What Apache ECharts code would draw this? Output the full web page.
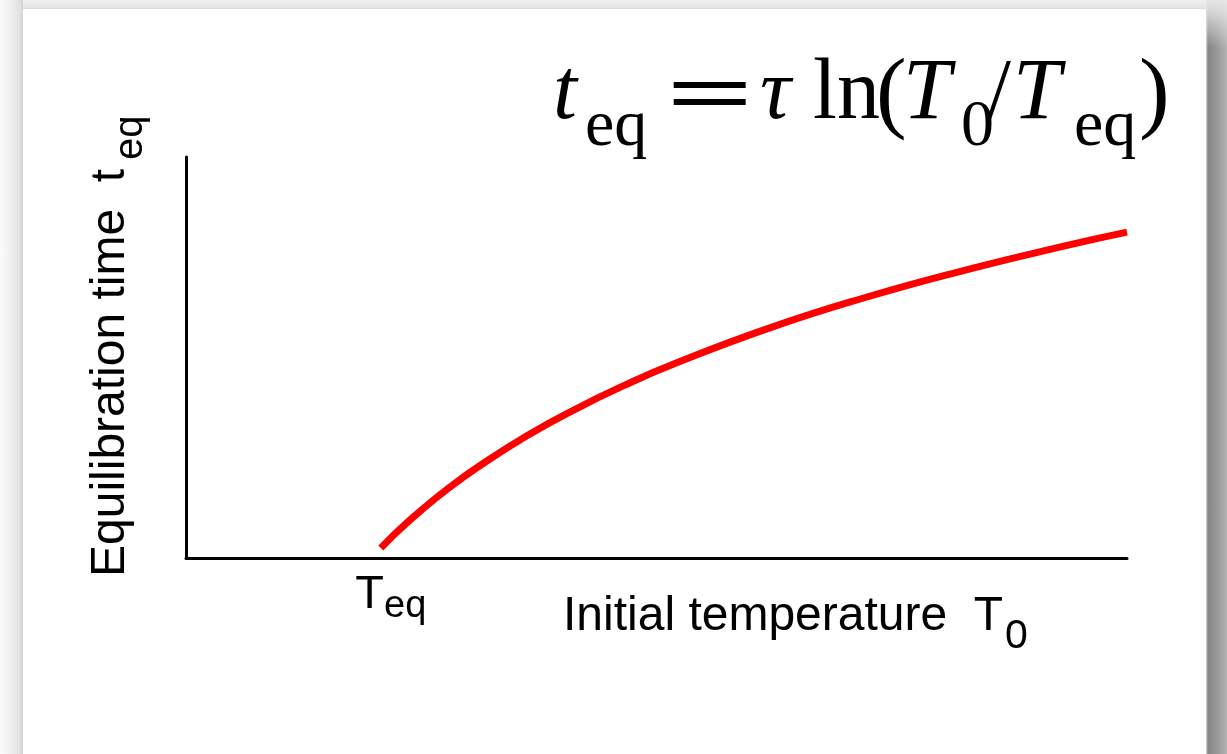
<!DOCTYPE html>
<html>
<head>
<meta charset="utf-8">
<script src="https://cdn.jsdelivr.net/npm/echarts@6/dist/echarts.min.js"></script>
<style>
html,body{margin:0;padding:0;width:1227px;height:754px;overflow:hidden;background:#e8e8e8;}
#topstrip{position:absolute;left:0;top:0;width:1227px;height:10px;background:linear-gradient(to bottom,#f1f1f1,#e0e0e0);}
#leftstrip{position:absolute;left:0;top:0;width:23px;height:754px;background:linear-gradient(to right,#fbfbfb 0%,#f3f3f3 35%,#e2e2e2 85%,#d2d2d2 100%);}
#rightstrip{position:absolute;left:1206px;top:0;width:21px;height:754px;background:linear-gradient(to right,#d8d8d8 0px,#858585 2px,#9a9a9a 12px,#b4b4b4 21px);}
#rightfade{position:absolute;left:1206px;top:0;width:21px;height:50px;background:linear-gradient(to bottom,#e6e6e6 0px,rgba(230,230,230,0.85) 10px,rgba(230,230,230,0) 48px);}
#panel{position:absolute;left:23px;top:9px;width:1183px;height:760px;background:#fff;box-shadow:0 0 1px #c8c8c8;}
#chart{position:absolute;left:0;top:0;width:1227px;height:754px;}
</style>
</head>
<body>
<div id="topstrip"></div>
<div id="leftstrip"></div>
<div id="rightstrip"></div>
<div id="rightfade"></div>
<div id="panel"></div>
<div id="chart"></div>
<script>
// Data (T0 in units of Teq, t_eq in units of tau)
var initialTemp = [1, 1.05, 1.1, 1.2, 1.35, 1.5, 1.75, 2, 2.25, 2.5, 3, 3.5, 4, 4.5, 4.83];
var equilTime  = [0, 0.049, 0.095, 0.182, 0.300, 0.405, 0.560, 0.693, 0.811, 0.916, 1.099, 1.253, 1.386, 1.504, 1.575];
var tickValues = [1];
var tickLabels = ['T|eq'];

var seriesData = initialTemp.map(function (x, i) { return [x, equilTime[i]]; });

var chart = echarts.init(document.getElementById('chart'), null, {renderer: 'canvas'});

var serif = 'Liberation Serif';
var sans = 'Liberation Sans';
function mid(baseline, size, k) { return baseline - k * size; }

var fm = 86, fs = 66, fp = 92, fBase = 124, fSubBase = 150;
var formula = [
  {t: 't', x: 553, size: fm, base: fBase, italic: true},
  {t: 'eq', x: 585, size: fs, base: fSubBase},
  {t: '=', x: 666, size: fm, base: fBase + 5, sx: 1.8, bold: true},
  {t: '\u03c4', x: 760, size: fm, base: fBase, italic: true},
  {t: 'ln', x: 813, size: fm, base: fBase},
  {t: '(', x: 876, size: fp, base: fBase + 4},
  {t: 'T', x: 903, size: fm, base: fBase, italic: true},
  {t: '0', x: 961, size: fs, base: fSubBase},
  {t: '/', x: 987, size: fm, base: fBase},
  {t: 'T', x: 1013, size: fm, base: fBase, italic: true},
  {t: 'eq', x: 1074, size: fs, base: fSubBase},
  {t: ')', x: 1139, size: fp, base: fBase + 4}
];

var graphics = formula.map(function (p) {
  return {
    type: 'text',
    x: p.x,
    y: mid(p.base, p.size, 0.3375),
    scaleX: p.sx || 1,
    style: {
      text: p.t,
      fill: '#000',
      font: (p.italic ? 'italic ' : '') + (p.bold ? 'bold ' : '') + p.size + 'px "' + serif + '"',
      align: 'left',
      verticalAlign: 'middle'
    },
    z: 10
  };
});

// x axis title
graphics.push({
  type: 'text', x: 563, y: mid(633, 48, 0.3465),
  style: {text: 'Initial temperature  T', fill: '#000', font: '48px "' + sans + '"', align: 'left', verticalAlign: 'middle'}, z: 10
});
graphics.push({
  type: 'text', x: 1005, y: mid(651, 41, 0.3465),
  style: {text: '0', fill: '#000', font: '41px "' + sans + '"', align: 'left', verticalAlign: 'middle'}, z: 10
});

// y axis title (rotated)
graphics.push({
  type: 'group', x: 127, y: 577, rotation: Math.PI / 2,
  children: [
    {type: 'text', x: 0, y: mid(0, 48, 0.3465),
      style: {text: 'Equilibration time  t', fill: '#000', font: '48px "' + sans + '"', align: 'left', verticalAlign: 'middle'}},
    {type: 'text', x: 417, y: mid(18, 40, 0.3465),
      style: {text: 'eq', fill: '#000', font: '40px "' + sans + '"', align: 'left', verticalAlign: 'middle'}}
  ],
  z: 10
});

var option = {
  backgroundColor: 'transparent',
  animation: false,
  grid: {left: 186, right: 100, top: 157, bottom: 196, containLabel: false},
  xAxis: {
    type: 'value', min: 0, max: 4.83,
    axisLine: {show: true, onZero: false, lineStyle: {color: '#000', width: 3}},
    axisTick: {show: false},
    splitLine: {show: false},
    axisLabel: {
      show: true,
      customValues: tickValues,
      margin: 14,
      formatter: function (v) {
        var i = tickValues.indexOf(v);
        var parts = tickLabels[i].split('|');
        return '{a|' + parts[0] + '}{b|' + parts[1] + '}';
      },
      rich: {
        a: {fontSize: 47, fontFamily: sans, color: '#000', lineHeight: 46, verticalAlign: 'top', padding: [0, 0, 0, 20]},
        b: {fontSize: 38, fontFamily: sans, color: '#000', lineHeight: 38, verticalAlign: 'top', padding: [16, 0, 0, 0]}
      }
    }
  },
  yAxis: {
    type: 'value', min: -0.05, max: 1.95,
    axisLine: {show: true, onZero: false, lineStyle: {color: '#000', width: 3}},
    axisTick: {show: false},
    axisLabel: {show: false},
    splitLine: {show: false}
  },
  graphic: graphics,
  series: [{
    type: 'line',
    data: seriesData,
    smooth: true,
    showSymbol: false,
    symbol: 'none',
    lineStyle: {color: '#ff0000', width: 7, cap: 'butt'},
    z: 5
  }]
};
chart.setOption(option);
</script>
</body>
</html>
